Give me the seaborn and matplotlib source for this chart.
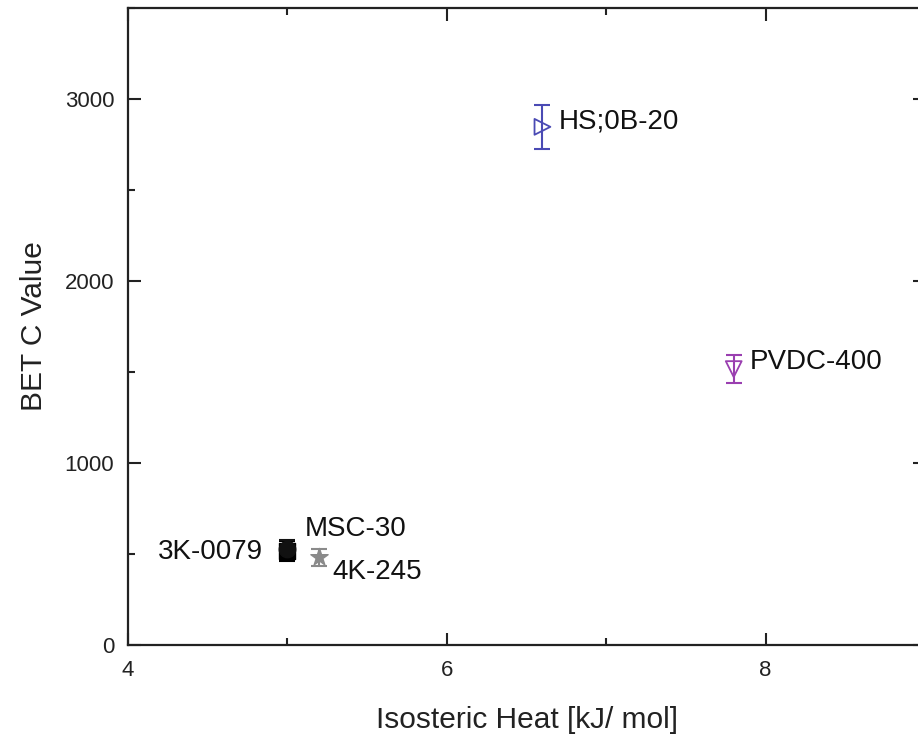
import matplotlib
matplotlib.use("Agg")
import matplotlib.pyplot as plt
import seaborn as sns
import pandas as pd
from matplotlib.ticker import MultipleLocator

sns.set_theme(style="ticks")
plt.rcParams['font.family'] = ['Liberation Sans', 'DejaVu Sans']

# Data
samples = ["3K-0079", "MSC-30", "4K-245", "HS;0B-20", "PVDC-400"]
heat = [5.0, 5.0, 5.2, 6.6, 7.8]
bet_c = [516, 530, 483, 2847, 1516]
bet_err = [55, 45, 47, 120, 75]
colors = ["#000000", "#111111", "#8a8a8a", "#4a4ab4", "#9a3fb0"]
markers = ["s", "o", "*", ">", "v"]
filled = [True, True, True, False, False]

df = pd.DataFrame({"sample": samples, "heat": heat, "bet": bet_c, "err": bet_err})

fig = plt.figure(figsize=(9.18, 7.38), dpi=100)
ax = fig.add_axes([128/918, 93/738, 797/918, 637/738])

for i, row in df.iterrows():
    ax.errorbar(row["heat"], row["bet"], yerr=row["err"], fmt="none",
                ecolor=colors[i], elinewidth=1.5, capsize=6, capthick=1.5, zorder=2)
    sub = df.iloc[[i]]
    if filled[i]:
        sns.scatterplot(data=sub, x="heat", y="bet", ax=ax, marker=markers[i],
                        s=140 if markers[i] != "*" else 170, color=colors[i],
                        edgecolor=colors[i], linewidth=1, zorder=3, legend=False)
    else:
        sns.scatterplot(data=sub, x="heat", y="bet", ax=ax, marker=markers[i],
                        s=130, facecolor="none", edgecolor=colors[i],
                        linewidth=1.3, zorder=3, legend=False)

fs = 20
ax.text(4.19, 510, "3K-0079", fontsize=fs, ha="left", va="center", color="#111111")
ax.text(5.11, 640, "MSC-30", fontsize=fs, ha="left", va="center", color="#111111")
ax.text(5.28, 400, "4K-245", fontsize=fs, ha="left", va="center", color="#111111")
ax.text(6.705, 2875, "HS;0B-20", fontsize=fs, ha="left", va="center", color="#111111")
ax.text(7.9, 1555, "PVDC-400", fontsize=fs, ha="left", va="center", color="#111111")

ax.set_xlim(4, 9)
ax.set_ylim(0, 3500)
ax.xaxis.set_major_locator(MultipleLocator(2))
ax.xaxis.set_minor_locator(MultipleLocator(1))
ax.yaxis.set_major_locator(MultipleLocator(1000))
ax.yaxis.set_minor_locator(MultipleLocator(500))
ax.tick_params(which="both", direction="in", top=True, right=True, width=1.5, colors="#222222")
ax.tick_params(which="major", length=9, labelsize=16)
ax.tick_params(axis="y", which="major", pad=10)
ax.tick_params(axis="x", which="major", pad=11)
ax.tick_params(which="minor", length=5)
for s in ax.spines.values():
    s.set_linewidth(1.6)
    s.set_color("#222222")

ax.set_xlabel("Isosteric Heat [kJ/ mol]", fontsize=21.5, labelpad=18, color="#222222")
ax.set_ylabel("BET C Value", fontsize=21.5, labelpad=12, color="#222222")

fig.savefig("out.png", dpi=100)
